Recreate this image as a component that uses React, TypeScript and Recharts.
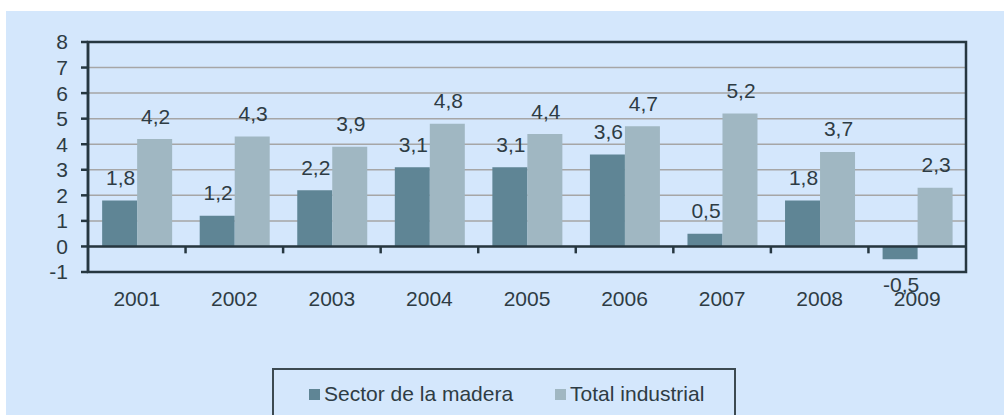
import {
  BarChart,
  Bar,
  XAxis,
  YAxis,
  CartesianGrid,
  ReferenceLine,
  ReferenceArea,
  LabelList,
  Legend,
} from "recharts";

const years = ["2001", "2002", "2003", "2004", "2005", "2006", "2007", "2008", "2009"];
const madera = [1.8, 1.2, 2.2, 3.1, 3.1, 3.6, 0.5, 1.8, -0.5];
const industrial = [4.2, 4.3, 3.9, 4.8, 4.4, 4.7, 5.2, 3.7, 2.3];
const yTicks = [-1, 0, 1, 2, 3, 4, 5, 6, 7, 8];
const seriesNames = ["Sector de la madera", "Total industrial"];

const DARK_BAR = "#5f8595";
const LIGHT_BAR = "#a0b7c2";
const BG = "#d4e7fc";
const LINE = "#263740";
const GRID = "#a6a6a6";
const TEXT = "#2e3c44";
const FONT = "'Liberation Sans', Arial, sans-serif";
const FS = 21;

const data = years.map((year, i) => ({
  year,
  [seriesNames[0]]: madera[i],
  [seriesNames[1]]: industrial[i],
}));

const fmt = (v: number) => String(v).replace(".", ",");

function BarValue(props: any) {
  const vb = props.viewBox || {};
  const x = props.x ?? vb.x;
  const y = props.y ?? vb.y;
  const width = props.width ?? vb.width;
  const height = props.height ?? vb.height;
  const value = Number(props.value);
  const top = Math.min(y, y + height);
  const bottom = Math.max(y, y + height);
  const cy = value < 0 ? bottom + 25 : top - 23;
  return (
    <text
      x={x + width / 2 + 1}
      y={cy}
      textAnchor="middle"
      dominantBaseline="central"
      fontSize={FS}
      fontFamily={FONT}
      fill={TEXT}
    >
      {fmt(value)}
    </text>
  );
}

function LegendBox(props: any) {
  const { payload = [] } = props;
  return (
    <div
      style={{
        boxSizing: "border-box",
        width: "100%",
        height: "100%",
        border: `2px solid #3c4a51`,
        display: "flex",
        alignItems: "flex-start",
        paddingTop: 12,
        paddingLeft: 35,
        fontFamily: FONT,
        fontSize: FS,
        color: TEXT,
      }}
    >
      {payload.map((entry: any, i: number) => (
        <div
          key={entry.value}
          style={{ display: "flex", alignItems: "center", marginRight: i === 0 ? 42 : 0 }}
        >
          <span
            style={{
              display: "inline-block",
              width: 11,
              height: 11,
              background: entry.color,
              marginRight: 4,
            }}
          />
          <span>{entry.value}</span>
        </div>
      ))}
    </div>
  );
}

export default function App() {
  return (
    <div
      style={{
        position: "absolute",
        left: 0,
        top: 0,
        width: 1004,
        height: 415,
        overflow: "hidden",
        background: "#ffffff",
      }}
    >
      <div
        style={{
          position: "absolute",
          left: 6,
          top: 11,
          width: 998,
          height: 404,
          background: BG,
        }}
      />
      <div style={{ position: "absolute", left: 0, top: 0 }}>
        <BarChart
          width={1004}
          height={415}
          data={data}
          margin={{ top: 42, right: 38, left: 0, bottom: 113 }}
          barCategoryGap="14.5%"
          barGap={0}
        >
          <CartesianGrid vertical={false} stroke={GRID} strokeWidth={1.5} />
          <XAxis
            dataKey="year"
            height={30}
            axisLine={false}
            tickLine={false}
            tickSize={6}
            tickMargin={13}
            interval={0}
            tick={{ fontSize: FS, fontFamily: FONT, fill: TEXT }}
          />
          <YAxis
            width={88}
            domain={[-1, 8]}
            ticks={yTicks}
            interval={0}
            allowDataOverflow
            axisLine={{ stroke: LINE, strokeWidth: 2.5 }}
            tickLine={{ stroke: LINE, strokeWidth: 2.5 }}
            tickSize={7}
            tickMargin={13}
            tick={{ fontSize: FS, fontFamily: FONT, fill: TEXT }}
          />
          <Bar dataKey={seriesNames[0]} fill={DARK_BAR} isAnimationActive={false}>
            <LabelList dataKey={seriesNames[0]} content={BarValue} />
          </Bar>
          <Bar dataKey={seriesNames[1]} fill={LIGHT_BAR} isAnimationActive={false}>
            <LabelList dataKey={seriesNames[1]} content={BarValue} />
          </Bar>
          <ReferenceArea y1={-1} y2={8} fill="none" stroke={LINE} strokeWidth={2.5} ifOverflow="visible" />
          <ReferenceLine y={0} stroke={LINE} strokeWidth={2.5} />
          {years.slice(1).map((year) => (
            <ReferenceLine
              key={year}
              segment={[
                { x: year, y: 0 },
                { x: year, y: -0.27 },
              ]}
              position="start"
              stroke={LINE}
              strokeWidth={2.5}
              ifOverflow="visible"
            />
          ))}
          <Legend
            layout="horizontal"
            verticalAlign="middle"
            align="center"
            wrapperStyle={{ left: 272, top: 368, width: 464, height: 60 }}
            content={LegendBox}
          />
        </BarChart>
      </div>
    </div>
  );
}
